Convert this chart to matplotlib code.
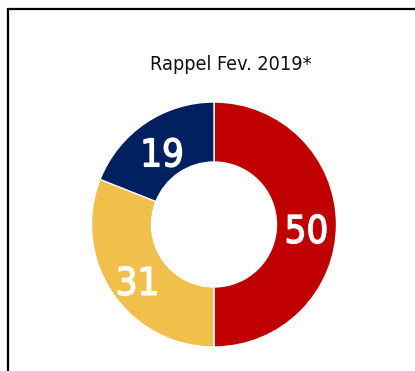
import matplotlib
matplotlib.use("Agg")
import matplotlib.pyplot as plt
import matplotlib.patheffects as pe
from matplotlib.patches import Rectangle
import numpy as np

values = [50, 31, 19]
colors = ["#C00000", "#F0BF4C", "#002060"]
title = "Rappel Fev. 2019*"

W, H = 415, 371
fig = plt.figure(figsize=(W / 100, H / 100), dpi=100)
fig.patch.set_facecolor("white")

# outer frame, open at right and bottom edges
frame = Rectangle((8 / W, -0.1), 1.2, (H - 9.5) / H + 0.1, transform=fig.transFigure,
                  fill=False, edgecolor="black", linewidth=1.6, clip_on=False)
fig.patches.append(frame)

cx, cy, R = 214, 224.5, 122.5
ax = fig.add_axes([(cx - R) / W, (H - cy - R) / H, 2 * R / W, 2 * R / H])
ax.set_aspect("equal")
wedges, _ = ax.pie(values, colors=colors, startangle=90, counterclock=False, radius=1.0,
                   wedgeprops=dict(width=0.49, edgecolor="white", linewidth=1.0))
ax.set_xlim(-1, 1)
ax.set_ylim(-1, 1)

total = sum(values)
start = 90.0
r_lab = 0.755
for v in values:
    mid = start - v / total * 360 / 2
    start -= v / total * 360
    x = r_lab * np.cos(np.radians(mid))
    y = r_lab * np.sin(np.radians(mid))
    ax.text(x, y - 0.15, str(v), ha="center", va="baseline", color="white",
            fontsize=27.5, family="DejaVu Sans", fontstretch="condensed",
            path_effects=[pe.withStroke(linewidth=1.0, foreground="white")])

fig.text(231 / W, 1 - 70.5 / H, title, ha="center", va="baseline", fontsize=14.2,
         family="DejaVu Sans", fontstretch="condensed", color="#111111")

fig.savefig("out.png", dpi=100)
